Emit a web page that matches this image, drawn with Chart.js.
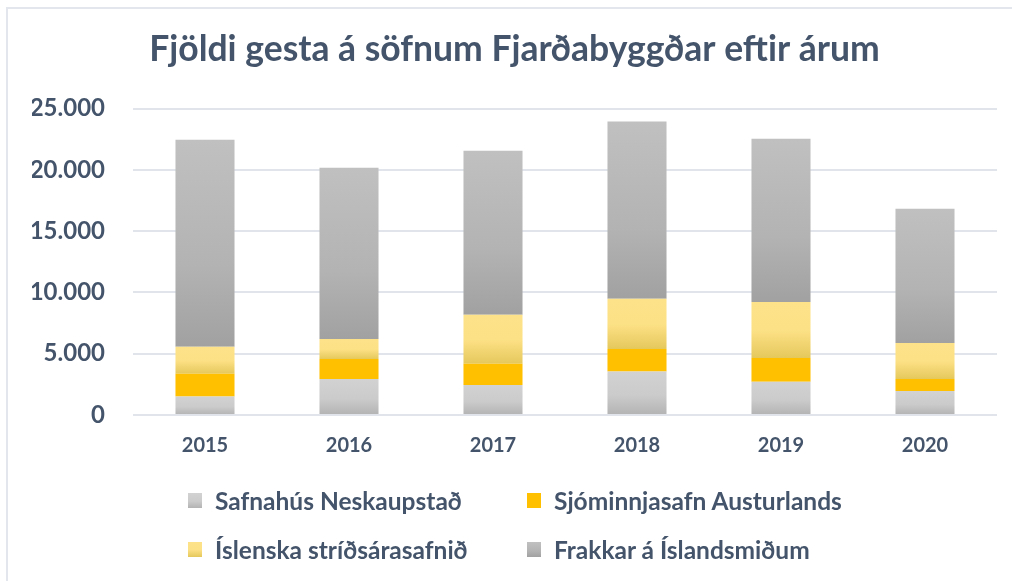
<!DOCTYPE html>
<html>
<head>
<meta charset="utf-8">
<script src="https://cdn.jsdelivr.net/npm/chart.js@4/dist/chart.umd.min.js"></script>
<style>
  html, body { margin: 0; padding: 0; background: #fff; }
  #wrap { position: relative; width: 1012px; height: 581px; overflow: hidden; }
  #frame { position: absolute; left: 6px; top: 7px; width: 1100px; height: 700px; border-left: 2px solid #e3e7ed; border-top: 2px solid #e3e7ed; box-sizing: border-box; }
  canvas { position: absolute; left: 0; top: 0; }
  .leg { position: absolute; font-family: Lato, sans-serif; font-weight: bold; font-size: 24.5px; color: #44546a; display: flex; align-items: center; white-space: nowrap; }
  .leg .box { width: 14px; height: 15px; margin-right: 13px; }
</style>
</head>
<body>
<div id="wrap">
  <div id="frame"></div>
  <canvas id="c" width="1012" height="581"></canvas>
  <div id="legend"></div>
</div>
<script>
const title = "Fjöldi gesta á söfnum Fjarðabyggðar eftir árum";
const years = ["2015", "2016", "2017", "2018", "2019", "2020"];
const seriesNames = ["Safnahús Neskaupstað", "Sjóminnjasafn Austurlands", "Íslenska stríðsárasafnið", "Frakkar á Íslandsmiðum"];
const safnahus = [1500, 2940, 2450, 3540, 2720, 1960];
const sjominjasafn = [1870, 1630, 1740, 1850, 1940, 980];
const stridsarasafn = [2190, 1630, 3980, 4090, 4570, 2940];
const frakkar = [16900, 13980, 13400, 14460, 13320, 10950];
const yTicks = [0, 5000, 10000, 15000, 20000, 25000];

const seriesValues = [safnahus, sjominjasafn, stridsarasafn, frakkar];
// gradient stops per series: [offset, color]
const grads = [
  [[0, "#d2d2d2"], [0.55, "#cbcbcb"], [1, "#b3b3b3"]],
  [[0, "#ffc000"], [1, "#ffc000"]],
  [[0, "#fee28a"], [0.5, "#fde186"], [1, "#e5c85c"]],
  [[0, "#c0c0c0"], [0.6, "#b3b3b3"], [1, "#a1a1a1"]]
];
const flatColors = ["#c8c8c8", "#ffc000", "#fcdc7c", "#b0b0b0"];

function makeGrad(ctx, stops, y0, y1) {
  const g = ctx.createLinearGradient(0, y0, 0, y1);
  stops.forEach(s => g.addColorStop(s[0], s[1]));
  return g;
}

function bgFor(di) {
  return function(c) {
    const chart = c.chart;
    const ys = chart.scales && chart.scales.y;
    if (!chart.chartArea || !ys || c.dataIndex === undefined) return flatColors[di];
    let base = 0;
    for (let k = 0; k < di; k++) base += seriesValues[k][c.dataIndex];
    const top = base + seriesValues[di][c.dataIndex];
    const y0 = ys.getPixelForValue(top), y1 = ys.getPixelForValue(base);
    if (!isFinite(y0) || !isFinite(y1) || y0 === y1) return flatColors[di];
    return makeGrad(chart.ctx, grads[di], y0, y1);
  };
}

const fmt = v => String(v).replace(/\B(?=(\d{3})+(?!\d))/g, ".");

const datasets = seriesNames.map((name, i) => ({
  label: name,
  data: seriesValues[i],
  backgroundColor: bgFor(i),
  borderWidth: 0,
  barPercentage: 0.41,
  categoryPercentage: 1.0
}));

const chart = new Chart(document.getElementById("c"), {
  type: "bar",
  data: { labels: years, datasets: datasets },
  options: {
    responsive: false,
    animation: false,
    layout: { padding: { left: 32, right: 15, top: 0, bottom: 126 } },
    plugins: {
      legend: { display: false },
      tooltip: { enabled: false },
      title: {
        display: true,
        text: title,
        color: "#44546a",
        font: { family: "Lato", weight: "bold", size: 35.5 },
        padding: { top: 28, bottom: 38 }
      }
    },
    scales: {
      x: {
        stacked: true,
        grid: { display: false, drawTicks: false },
        border: { display: false },
        ticks: { color: "#44546a", font: { family: "Lato", weight: "bold", size: 20 }, padding: 19 },
        afterFit: s => { s.height = 40; }
      },
      y: {
        stacked: true,
        min: 0, max: 25000,
        afterBuildTicks: s => { s.ticks = yTicks.map(v => ({ value: v })); },
        grid: { color: "#e1e5eb", lineWidth: 2, drawTicks: false },
        border: { display: false },
        ticks: { color: "#44546a", font: { family: "Lato", weight: "bold", size: 24 }, padding: 28, callback: v => fmt(v) },
        afterFit: s => { s.width = 101; }
      }
    }
  }
});

// HTML legend built from the datasets
const legend = document.getElementById("legend");
const legPos = [[188, 500], [527, 500], [188, 549], [527, 549]];
chart.data.datasets.forEach((ds, i) => {
  const d = document.createElement("div");
  d.className = "leg";
  d.style.left = legPos[i][0] + "px";
  d.style.top = (legPos[i][1] - 15) + "px";
  d.style.height = "30px";
  const b = document.createElement("div");
  b.className = "box";
  const stops = grads[i].map(s => s[1] + " " + (s[0] * 100) + "%").join(", ");
  b.style.background = "linear-gradient(to bottom, " + stops + ")";
  const t = document.createElement("span");
  t.textContent = ds.label;
  d.appendChild(b); d.appendChild(t);
  legend.appendChild(d);
});
</script>
</body>
</html>
